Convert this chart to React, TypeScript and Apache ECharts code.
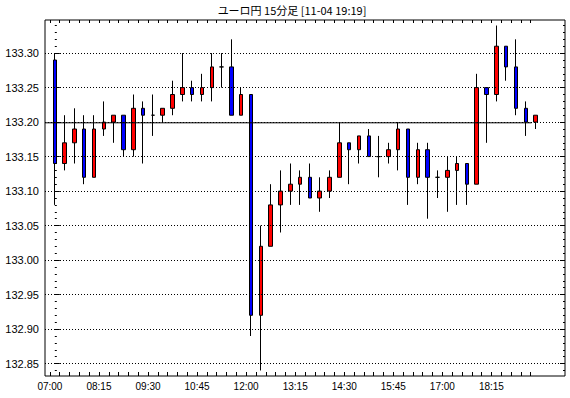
import React, { useEffect, useRef } from 'react';
import * as echarts from 'echarts';

const titleText = 'ユーロ円 15分足 [11-04 19:19]';

const times = [
  '07:00', '07:15', '07:30', '07:45', '08:00', '08:15', '08:30', '08:45', '09:00', '09:15',
  '09:30', '09:45', '10:00', '10:15', '10:30', '10:45', '11:00', '11:15', '11:30', '11:45',
  '12:00', '12:15', '12:30', '12:45', '13:00', '13:15', '13:30', '13:45', '14:00', '14:15',
  '14:30', '14:45', '15:00', '15:15', '15:30', '15:45', '16:00', '16:15', '16:30', '16:45',
  '17:00', '17:15', '17:30', '17:45', '18:00', '18:15', '18:30', '18:45', '19:00', '19:15',
];

const opens = [
  133.29, 133.14, 133.17, 133.19, 133.12, 133.19, 133.20, 133.21, 133.16, 133.22,
  133.21, 133.21, 133.22, 133.24, 133.25, 133.24, 133.25, 133.28, 133.28, 133.21,
  133.24, 132.92, 133.02, 133.08, 133.10, 133.11, 133.12, 133.09, 133.10, 133.12,
  133.17, 133.16, 133.18, 133.15, 133.15, 133.16, 133.19, 133.12, 133.16, 133.12,
  133.12, 133.13, 133.14, 133.11, 133.25, 133.24, 133.31, 133.28, 133.22, 133.20,
];
const closes = [
  133.14, 133.17, 133.19, 133.12, 133.19, 133.20, 133.21, 133.16, 133.22, 133.21,
  133.21, 133.22, 133.24, 133.25, 133.24, 133.25, 133.28, 133.28, 133.21, 133.24,
  132.92, 133.02, 133.08, 133.10, 133.11, 133.12, 133.09, 133.10, 133.12, 133.17,
  133.16, 133.18, 133.15, 133.15, 133.16, 133.19, 133.12, 133.16, 133.12, 133.12,
  133.13, 133.14, 133.11, 133.25, 133.24, 133.31, 133.28, 133.22, 133.20, 133.21,
];
const lows = [
  133.08, 133.13, 133.14, 133.11, 133.12, 133.18, 133.17, 133.15, 133.15, 133.14,
  133.18, 133.20, 133.21, 133.23, 133.23, 133.23, 133.23, 133.25, 133.21, 133.21,
  132.89, 132.84, 133.02, 133.04, 133.08, 133.08, 133.09, 133.07, 133.09, 133.12,
  133.11, 133.14, 133.15, 133.12, 133.14, 133.13, 133.08, 133.11, 133.06, 133.09,
  133.07, 133.08, 133.08, 133.11, 133.17, 133.23, 133.26, 133.21, 133.18, 133.19,
];
const highs = [
  133.30, 133.21, 133.22, 133.21, 133.21, 133.23, 133.21, 133.21, 133.24, 133.23,
  133.24, 133.22, 133.26, 133.30, 133.26, 133.27, 133.30, 133.30, 133.32, 133.25,
  133.24, 133.05, 133.11, 133.13, 133.14, 133.13, 133.14, 133.12, 133.13, 133.20,
  133.17, 133.18, 133.19, 133.18, 133.17, 133.20, 133.19, 133.17, 133.17, 133.13,
  133.15, 133.15, 133.14, 133.27, 133.25, 133.34, 133.31, 133.32, 133.23, 133.21,
];

const xLabelTimes = ['07:00', '08:15', '09:30', '10:45', '12:00', '13:15', '14:30', '15:45', '17:00', '18:15'];
const yTickValues = [133.30, 133.25, 133.20, 133.15, 133.10, 133.05, 133.00, 132.95, 132.90, 132.85];
const yMinorTicks = [
  132.84, 132.85, 132.86, 132.87, 132.88, 132.89, 132.90, 132.91, 132.92, 132.93, 132.94,
  132.95, 132.96, 132.97, 132.98, 132.99, 133.00, 133.01, 133.02, 133.03, 133.04, 133.05,
  133.06, 133.07, 133.08, 133.09, 133.10, 133.11, 133.12, 133.13, 133.14, 133.15, 133.16,
  133.17, 133.18, 133.19, 133.20, 133.21, 133.22, 133.23, 133.24, 133.25, 133.26, 133.27,
  133.28, 133.29, 133.30, 133.31, 133.32, 133.33, 133.34,
];

const refLineValue = 133.199;
const refLineFrom = -1;
const refLineTo = 48.6;

const yMin = 132.832;
const yMax = 133.348;
const xMin = -1;
const xMax = 52;

export default function App() {
  const ref = useRef<HTMLDivElement>(null);

  useEffect(() => {
    const chart = echarts.init(ref.current as HTMLDivElement, null, { renderer: 'svg' });
    const candleData = times.map((_, i) => [i, opens[i], closes[i], lows[i], highs[i]]);
    const boundaryTicks = times.map((_, i) => i - 0.5);
    const labelTicks = xLabelTimes.map((t) => times.indexOf(t) - 0.5);
    const font = 'Liberation Sans';

    const baseX: any = {
      type: 'value',
      min: xMin,
      max: xMax,
      splitLine: { show: false },
      axisLine: { show: false },
    };
    const baseY: any = {
      type: 'value',
      min: yMin,
      max: yMax,
      splitLine: { show: false },
      axisLine: { show: false },
    };

    chart.setOption({
      animation: false,
      backgroundColor: '#ffffff',
      graphic: [
        {
          type: 'text',
          x: 292,
          y: 4,
          style: {
            text: titleText,
            textAlign: 'center',
            verticalAlign: 'top',
            fontSize: 11,
            fontFamily: 'Noto Sans CJK JP',
            fill: '#000',
          },
        },
      ],
      grid: {
        left: 45,
        right: 5,
        top: 20,
        bottom: 22,
        show: true,
        borderColor: '#000',
        borderWidth: 1,
        backgroundColor: 'transparent',
      },
      xAxis: [
        {
          ...baseX,
          position: 'bottom',
          axisTick: { inside: true, length: 4, customValues: boundaryTicks, lineStyle: { color: '#000' } },
          axisLabel: {
            customValues: labelTicks,
            formatter: (v: number) => times[Math.round(v + 0.5)] ?? '',
            color: '#000',
            fontSize: 10,
            fontFamily: font,
            margin: 5,
          },
        },
        {
          ...baseX,
          position: 'top',
          axisTick: { inside: true, length: 3, customValues: boundaryTicks, lineStyle: { color: '#000' } },
          axisLabel: { show: false },
        },
      ],
      yAxis: [
        {
          ...baseY,
          position: 'left',
          axisTick: { inside: true, length: 5, customValues: yTickValues, lineStyle: { color: '#000' } },
          axisLabel: {
            customValues: yTickValues,
            formatter: (v: number) => v.toFixed(2),
            color: '#000',
            fontSize: 11,
            fontFamily: font,
            margin: 6,
          },
        },
        {
          ...baseY,
          position: 'left',
          axisTick: { inside: true, length: 2, customValues: yMinorTicks, lineStyle: { color: '#000' } },
          axisLabel: { show: false },
        },
        {
          ...baseY,
          position: 'right',
          axisTick: { inside: true, length: 5, customValues: yTickValues, lineStyle: { color: '#000' } },
          axisLabel: { show: false },
        },
        {
          ...baseY,
          position: 'right',
          axisTick: { inside: true, length: 2, customValues: yMinorTicks, lineStyle: { color: '#000' } },
          axisLabel: { show: false },
        },
      ],
      series: [
        {
          type: 'line',
          z: 1,
          data: [],
          silent: true,
          markLine: {
            silent: true,
            symbol: ['none', 'none'],
            label: { show: false },
            lineStyle: { color: '#000', type: [1, 2], width: 1 },
            data: yTickValues.map((v) => ({ yAxis: v })),
          },
        },
        {
          type: 'candlestick',
          z: 2,
          barWidth: 4,
          data: candleData,
          encode: { x: 0, y: [1, 2, 3, 4] },
          itemStyle: {
            color: '#ff0000',
            color0: '#0000ff',
            borderColor: '#000',
            borderColor0: '#000',
            borderColorDoji: '#000',
            borderWidth: 1,
          },
        },
        {
          type: 'line',
          z: 3,
          silent: true,
          symbol: 'none',
          lineStyle: { color: '#000', width: 1 },
          data: [
            [refLineFrom, refLineValue],
            [refLineTo, refLineValue],
          ],
        },
      ],
    });

    return () => chart.dispose();
  }, []);

  return (
    <div
      ref={ref}
      style={{ position: 'fixed', left: 0, top: 0, width: 570, height: 398, background: '#fff' }}
    />
  );
}
